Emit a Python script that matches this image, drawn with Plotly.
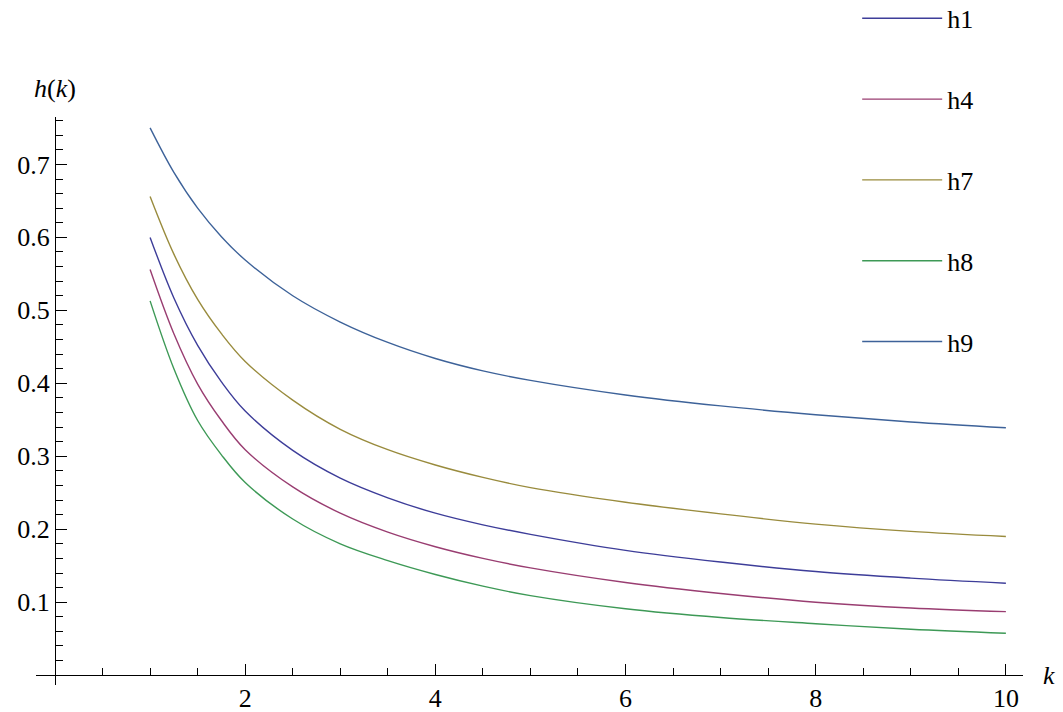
import plotly.graph_objects as go

# Sample points of each h-curve over k
k = [1, 1.25, 1.5, 1.75, 2, 2.5, 3, 3.5, 4, 4.5, 5, 6, 7, 8, 9, 10]
h1 = [0.600, 0.517, 0.452, 0.402, 0.362, 0.308, 0.270, 0.243, 0.222, 0.206, 0.193, 0.171, 0.155, 0.142, 0.133, 0.126]
h4 = [0.556, 0.468, 0.399, 0.349, 0.309, 0.258, 0.222, 0.196, 0.176, 0.160, 0.147, 0.127, 0.112, 0.100, 0.092, 0.087]
h7 = [0.656, 0.577, 0.515, 0.468, 0.430, 0.377, 0.337, 0.309, 0.288, 0.271, 0.257, 0.237, 0.221, 0.207, 0.197, 0.190]
h8 = [0.513, 0.420, 0.349, 0.302, 0.264, 0.214, 0.180, 0.157, 0.138, 0.122, 0.109, 0.091, 0.079, 0.0705, 0.063, 0.0575]
h9 = [0.750, 0.689, 0.640, 0.601, 0.569, 0.520, 0.484, 0.456, 0.434, 0.417, 0.404, 0.384, 0.369, 0.357, 0.347, 0.339]

names = ["h1", "h4", "h7", "h8", "h9"]
series = [h1, h4, h7, h8, h9]
colors = ["#3d3d99", "#993d71", "#998b3d", "#3d9956", "#3d6299"]

x_range = [-0.2, 10.18]
y_range = [-0.0135, 0.765]

FONT = "Liberation Serif"

fig = go.Figure()
for name, ys, col in zip(names, series, colors):
    fig.add_trace(go.Scatter(
        x=k, y=ys, name=name, mode="lines", legendgroup=name,
        line=dict(color=col, width=1.4, shape="spline", smoothing=1.0),
    ))

# axes cross at the origin
x_pos = (0 - y_range[0]) / (y_range[1] - y_range[0])
y_pos = (0 - x_range[0]) / (x_range[1] - x_range[0])

fig.update_layout(
    width=1063, height=712,
    margin=dict(l=36, r=40, t=117, b=27, autoexpand=False),
    paper_bgcolor="white", plot_bgcolor="white",
    font=dict(family=FONT, size=26, color="black"),
    showlegend=True,
    legend=dict(
        x=0.832, y=1.215, xanchor="left", yanchor="top",
        bgcolor="rgba(0,0,0,0)", tracegroupgap=44, itemwidth=80,
        maxheight=700,
        font=dict(family=FONT, size=26, color="black"),
    ),
    xaxis=dict(
        range=x_range, anchor="free", position=x_pos,
        showline=True, linecolor="black", linewidth=1,
        showgrid=False, zeroline=False,
        tickmode="array", tickvals=[2, 4, 6, 8, 10],
        ticks="inside", ticklen=11, tickcolor="black", tickwidth=1,
        tickfont=dict(family=FONT, size=26, color="black"),
        minor=dict(tickmode="linear", tick0=0, dtick=0.5, ticks="inside",
                   ticklen=7, tickcolor="black", tickwidth=1, showgrid=False),
    ),
    yaxis=dict(
        range=y_range, anchor="free", position=y_pos,
        showline=True, linecolor="black", linewidth=1,
        showgrid=False, zeroline=False,
        tickmode="array", tickvals=[0.1, 0.2, 0.3, 0.4, 0.5, 0.6, 0.7],
        ticktext=["0.1", "0.2", "0.3", "0.4", "0.5", "0.6", "0.7"],
        ticks="inside", ticklen=11, tickcolor="black", tickwidth=1,
        tickfont=dict(family=FONT, size=26, color="black"),
        minor=dict(tickmode="linear", tick0=0, dtick=0.02, ticks="inside",
                   ticklen=7, tickcolor="black", tickwidth=1, showgrid=False),
    ),
    annotations=[
        dict(text="<i>h</i>(<i>k</i>)", xref="paper", yref="paper",
             x=-0.004, y=1.051, xanchor="left", yanchor="middle",
             showarrow=False, font=dict(family=FONT, size=26, color="black")),
        dict(text="<i>k</i>", xref="paper", yref="paper",
             x=1.018, y=x_pos, xanchor="left", yanchor="middle",
             showarrow=False, font=dict(family=FONT, size=26, color="black")),
    ],
)

fig.write_html("out.html")
